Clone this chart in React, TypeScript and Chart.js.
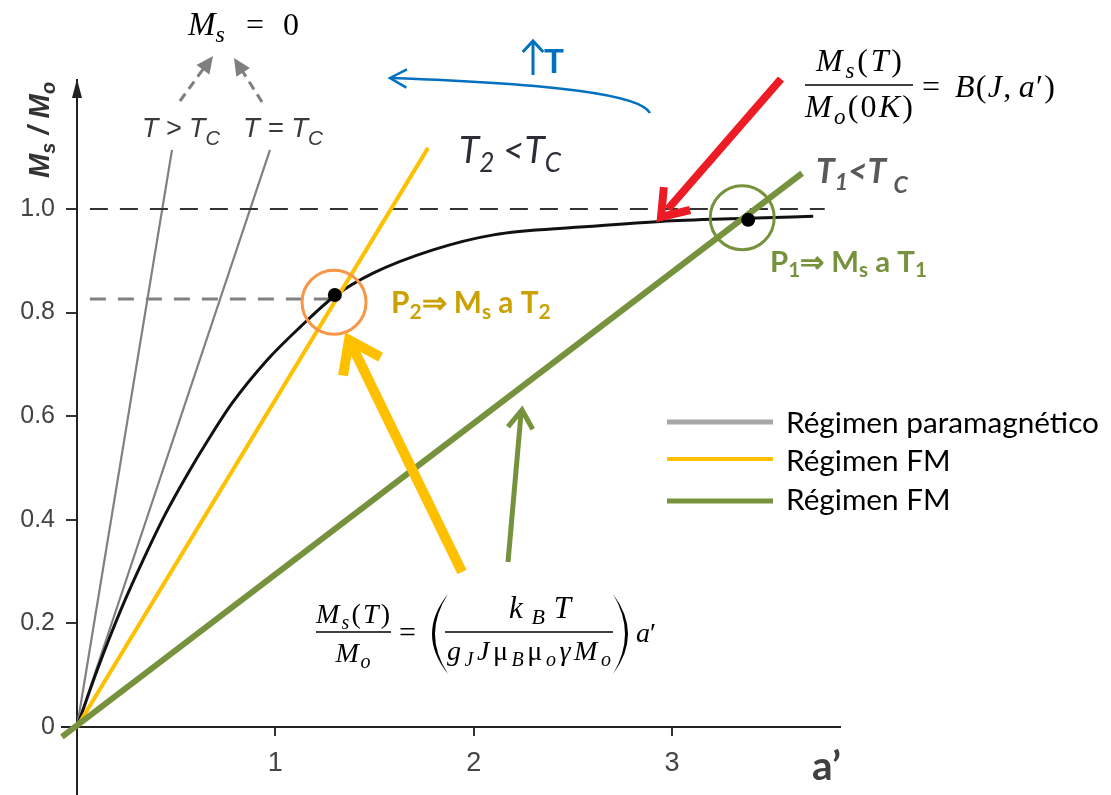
import React, { useEffect, useRef } from "react";
import { Chart, registerables } from "chart.js";
Chart.register(...registerables);

// ---------------- data ----------------
const xTicks = [1, 2, 3];
const xTickLabels = ["1", "2", "3"];
const yTicks = [0, 0.2, 0.4, 0.6, 0.8, 1.0];
const yTickLabels = ["0", "0.2", "0.4", "0.6", "0.8", "1.0"];

// Brillouin curve B(J, a')
const brillouinA = [0, 0.1, 0.17, 0.242, 0.328, 0.444, 0.56, 0.661, 0.782, 0.958, 1.125, 1.3, 1.493, 1.795, 2.1, 2.537, 2.94, 3.38, 3.712];
const brillouinM = [0, 0.108, 0.178, 0.245, 0.318, 0.41, 0.49, 0.554, 0.625, 0.708, 0.772, 0.832, 0.876, 0.921, 0.95, 0.965, 0.976, 0.982, 0.986];

// paramagnetic lines (T > Tc, T = Tc)
const paraHotA = [0, 0.479];
const paraHotM = [0, 1.114];
const paraTcA = [0, 0.973];
const paraTcM = [0, 1.114];

// FM lines
const fmT2A = [0, 1.77];
const fmT2M = [0, 1.118];
const fmT1A = [-0.076, 3.656];
const fmT1M = [-0.019, 1.069];

// reference dashed levels
const satRefA = [0.065, 3.77];
const satRefM = [1.0, 1.0];
const p2RefA = [0.065, 1.3];
const p2RefM = [0.826, 0.826];

// solutions P2, P1
const solA = [1.3, 3.384];
const solM = [0.834, 0.979];
const ringA = [1.296, 3.354];
const ringM = [0.82, 0.983];

const legendLabels = ["Régimen paramagnético", "Régimen FM", "Régimen FM"];

const X_MIN = -0.0756;
const X_MAX = 3.847;
const Y_MIN = -0.1313;
const Y_MAX = 1.249;

const GREEN = "#76923C";
const YELLOW = "#FFC000";
const GRAY = "#7f7f7f";

const pts = (xs: number[], ys: number[]) => xs.map((x, i) => ({ x, y: ys[i] }));

type Run = { t: string; s: number; st?: string; w?: string; f?: string; dy?: number };

function textRuns(
  ctx: CanvasRenderingContext2D,
  runs: Run[],
  x: number,
  y: number,
  o: { family: string; color: string; width?: number; align?: "left" | "center" | "right"; mode?: "scale" | "space" }
) {
  const font = (r: Run, k: number) => `${r.st || "normal"} ${r.w || "normal"} ${r.s * k}px ${r.f || o.family}`;
  ctx.fillStyle = o.color;
  ctx.textBaseline = "alphabetic";
  ctx.textAlign = "left";
  if (o.mode === "space" && o.width) {
    const chars: Run[] = [];
    runs.forEach((r) => Array.from(r.t).forEach((c) => chars.push({ ...r, t: c })));
    const widths = chars.map((c) => {
      ctx.font = font(c, 1);
      return ctx.measureText(c.t).width;
    });
    const natural = widths.reduce((a, b) => a + b, 0);
    const gap = chars.length > 1 ? (o.width - natural) / (chars.length - 1) : 0;
    let cx = o.align === "center" ? x - o.width / 2 : o.align === "right" ? x - o.width : x;
    chars.forEach((c, i) => {
      ctx.font = font(c, 1);
      ctx.fillText(c.t, cx, y + (c.dy || 0));
      cx += widths[i] + gap;
    });
    return 1;
  }
  const measure = (k: number) =>
    runs.reduce((a, r) => {
      ctx.font = font(r, k);
      return a + ctx.measureText(r.t).width;
    }, 0);
  let k = 1;
  if (o.width) k = o.width / measure(1);
  const total = measure(k);
  let cx = o.align === "center" ? x - total / 2 : o.align === "right" ? x - total : x;
  for (const r of runs) {
    ctx.font = font(r, k);
    ctx.fillText(r.t, cx, y + (r.dy || 0) * k);
    cx += ctx.measureText(r.t).width;
  }
  return k;
}

function seg(ctx: CanvasRenderingContext2D, x1: number, y1: number, x2: number, y2: number, color: string, w: number, dash: number[] = []) {
  ctx.save();
  ctx.strokeStyle = color;
  ctx.lineWidth = w;
  ctx.setLineDash(dash);
  ctx.lineCap = "butt";
  ctx.beginPath();
  ctx.moveTo(x1, y1);
  ctx.lineTo(x2, y2);
  ctx.stroke();
  ctx.restore();
}

function chevron(ctx: CanvasRenderingContext2D, tx: number, ty: number, fx: number, fy: number, len: number, ang: number, color: string, w: number) {
  const a = Math.atan2(fy - ty, fx - tx);
  ctx.save();
  ctx.strokeStyle = color;
  ctx.lineWidth = w;
  ctx.lineJoin = "miter";
  ctx.lineCap = "butt";
  ctx.setLineDash([]);
  ctx.beginPath();
  ctx.moveTo(tx + len * Math.cos(a + ang), ty + len * Math.sin(a + ang));
  ctx.lineTo(tx, ty);
  ctx.lineTo(tx + len * Math.cos(a - ang), ty + len * Math.sin(a - ang));
  ctx.stroke();
  ctx.restore();
}

function filledHead(ctx: CanvasRenderingContext2D, tx: number, ty: number, fx: number, fy: number, len: number, half: number, color: string) {
  const a = Math.atan2(fy - ty, fx - tx);
  const bx = tx + len * Math.cos(a);
  const by = ty + len * Math.sin(a);
  const px = -Math.sin(a);
  const py = Math.cos(a);
  ctx.save();
  ctx.fillStyle = color;
  ctx.beginPath();
  ctx.moveTo(tx, ty);
  ctx.lineTo(bx + half * px, by + half * py);
  ctx.lineTo(bx - half * px, by - half * py);
  ctx.closePath();
  ctx.fill();
  ctx.restore();
}

function paren(ctx: CanvasRenderingContext2D, x: number, top: number, bot: number, bulge: number, thick: number) {
  const mid = (top + bot) / 2;
  ctx.save();
  ctx.fillStyle = "#000";
  ctx.beginPath();
  ctx.moveTo(x, top);
  ctx.quadraticCurveTo(x + bulge, mid, x, bot);
  ctx.quadraticCurveTo(x + bulge - Math.sign(bulge) * thick, mid, x, top);
  ctx.closePath();
  ctx.fill();
  ctx.restore();
}

const SERIF = '"Liberation Serif"';
const SANS = '"Liberation Sans"';
const LATO = "Lato";

const annotations = {
  id: "annotations",
  afterDraw(chart: any) {
    const ctx: CanvasRenderingContext2D = chart.ctx;
    const xs = chart.scales.x;
    ctx.save();

    // y-axis arrowhead
    const ax = xs.getPixelForValue(0);
    const top = chart.chartArea.top;
    ctx.fillStyle = "#222";
    ctx.beginPath();
    ctx.moveTo(ax, top - 1);
    ctx.lineTo(ax - 5, top + 18);
    ctx.lineTo(ax + 5, top + 18);
    ctx.closePath();
    ctx.fill();

    // y-axis title (rotated)
    ctx.save();
    ctx.translate(49, 178);
    ctx.rotate(-Math.PI / 2);
    textRuns(
      ctx,
      [
        { t: "M", s: 28, st: "italic", w: "bold" },
        { t: "s", s: 19, st: "italic", w: "bold", dy: 6 },
        { t: " / ", s: 28, st: "italic", w: "bold" },
        { t: "M", s: 28, st: "italic", w: "bold" },
        { t: "o", s: 19, st: "italic", w: "bold", dy: 6 },
      ],
      0,
      0,
      { family: SANS, color: "#333", width: 96 }
    );
    ctx.restore();

    // x-axis title
    textRuns(ctx, [{ t: "a’", s: 32, w: "bold" }], 812, 780, { family: LATO, color: "#404040", width: 29 });

    // Ms = 0
    textRuns(ctx, [{ t: "M", s: 33, st: "italic" }, { t: "s", s: 24, st: "italic", dy: 7 }], 188, 35, { family: SERIF, color: "#000" });
    textRuns(ctx, [{ t: "=", s: 32 }], 246, 35, { family: SERIF, color: "#000" });
    textRuns(ctx, [{ t: "0", s: 32 }], 283, 35, { family: SERIF, color: "#000" });

    // gray dashed arrows to Ms = 0
    seg(ctx, 180, 101, 204, 68, GRAY, 3, [9, 6]);
    filledHead(ctx, 213, 56, 180, 101, 17, 8, GRAY);
    seg(ctx, 262, 102, 243, 72, GRAY, 3, [9, 6]);
    filledHead(ctx, 234, 58, 262, 102, 17, 8, GRAY);

    // T > Tc, T = Tc
    textRuns(ctx, [{ t: "T > T", s: 28, st: "italic" }, { t: "C", s: 21, st: "italic", dy: 8 }], 142, 137, { family: SANS, color: "#3a3a3a", width: 78 });
    textRuns(ctx, [{ t: "T = T", s: 28, st: "italic" }, { t: "C", s: 21, st: "italic", dy: 8 }], 243, 137, { family: SANS, color: "#3a3a3a", width: 80 });

    // T2 < Tc
    textRuns(
      ctx,
      [
        { t: "T", s: 34, st: "italic" },
        { t: "2", s: 24, st: "italic", dy: 8 },
        { t: " <", s: 34, st: "italic" },
        { t: "T", s: 34, st: "italic" },
        { t: "C", s: 24, st: "italic", dy: 8 },
      ],
      459,
      163,
      { family: LATO, color: "#2d2d38", width: 102 }
    );

    // blue curved arrow + ↑T
    ctx.save();
    ctx.strokeStyle = "#0070C0";
    ctx.lineWidth = 2.5;
    ctx.beginPath();
    ctx.moveTo(650, 113);
    ctx.bezierCurveTo(640, 95, 560, 84, 391, 78);
    ctx.stroke();
    ctx.restore();
    chevron(ctx, 390, 78, 420, 79, 19, 0.5, "#0070C0", 2.5);
    seg(ctx, 533, 75, 533, 42, "#0070C0", 3);
    chevron(ctx, 533, 41, 533, 75, 15, 0.75, "#0070C0", 3);
    textRuns(ctx, [{ t: "T", s: 32, w: "bold" }], 544, 73, { family: LATO, color: "#0070C0", width: 20 });

    // top-right equation
    textRuns(
      ctx,
      [
        { t: "M", s: 32, st: "italic" },
        { t: "s", s: 23, st: "italic", dy: 7 },
        { t: "(", s: 32 },
        { t: "T", s: 32, st: "italic" },
        { t: ")", s: 32 },
      ],
      859,
      71,
      { family: SERIF, color: "#000", width: 86, align: "center", mode: "space" }
    );
    seg(ctx, 805, 85, 913, 85, "#000", 1.6);
    textRuns(
      ctx,
      [
        { t: "M", s: 32, st: "italic" },
        { t: "o", s: 23, st: "italic", dy: 7 },
        { t: "(0", s: 32 },
        { t: "K", s: 32, st: "italic" },
        { t: ")", s: 32 },
      ],
      859,
      117,
      { family: SERIF, color: "#000", width: 108, align: "center", mode: "space" }
    );
    textRuns(ctx, [{ t: "=", s: 32 }], 922, 97, { family: SERIF, color: "#000" });
    textRuns(
      ctx,
      [
        { t: "B", s: 32, st: "italic" },
        { t: "(", s: 32 },
        { t: "J", s: 32, st: "italic" },
        { t: ",", s: 32 },
        { t: " ", s: 20 },
        { t: "a", s: 32, st: "italic" },
        { t: "′)", s: 32 },
      ],
      955,
      97,
      { family: SERIF, color: "#000", width: 100, mode: "space" }
    );

    // red arrow
    seg(ctx, 781, 79, 668, 209, "#ED1C24", 8);
    chevron(ctx, 661, 217, 781, 79, 30, 0.62, "#ED1C24", 8);

    // T1 < Tc
    textRuns(
      ctx,
      [
        { t: "T", s: 32, st: "italic", w: "bold" },
        { t: "1", s: 22, st: "italic", w: "bold", dy: 7 },
        { t: "<T ", s: 32, st: "italic", w: "bold" },
        { t: "C", s: 22, st: "italic", w: "bold", dy: 10 },
      ],
      816,
      183,
      { family: LATO, color: "#595959", width: 92 }
    );

    // P1 label
    textRuns(
      ctx,
      [
        { t: "P", s: 27, w: "bold" },
        { t: "1", s: 19, w: "bold", dy: 5 },
        { t: "⇒", s: 27, w: "bold" },
        { t: " M", s: 27, w: "bold" },
        { t: "s", s: 19, w: "bold", dy: 5 },
        { t: " a T", s: 27, w: "bold" },
        { t: "1", s: 19, w: "bold", dy: 5 },
      ],
      770,
      272,
      { family: LATO, color: GREEN, width: 158 }
    );

    // P2 label
    textRuns(
      ctx,
      [
        { t: "P", s: 27, w: "bold" },
        { t: "2", s: 19, w: "bold", dy: 5 },
        { t: "⇒", s: 27, w: "bold" },
        { t: " M", s: 27, w: "bold" },
        { t: "s", s: 19, w: "bold", dy: 5 },
        { t: " a T", s: 27, w: "bold" },
        { t: "2", s: 19, w: "bold", dy: 5 },
      ],
      391,
      313,
      { family: LATO, color: "#C9A100", width: 160 }
    );

    // yellow arrow
    seg(ctx, 462, 572, 353, 348, YELLOW, 10);
    chevron(ctx, 349, 340, 462, 572, 36, 0.62, YELLOW, 10);

    // green arrow
    seg(ctx, 508, 562, 521, 414, GREEN, 5);
    chevron(ctx, 522, 410, 508, 562, 22, 0.6, GREEN, 5);

    // bottom equation
    textRuns(
      ctx,
      [
        { t: "M", s: 28, st: "italic" },
        { t: "s", s: 20, st: "italic", dy: 6 },
        { t: "(", s: 28 },
        { t: "T", s: 28, st: "italic" },
        { t: ")", s: 28 },
      ],
      316,
      623,
      { family: SERIF, color: "#000", width: 74, mode: "space" }
    );
    seg(ctx, 316, 632, 391, 632, "#000", 1.6);
    textRuns(ctx, [{ t: "M", s: 28, st: "italic" }, { t: "o", s: 20, st: "italic", dy: 6 }], 353, 662, { family: SERIF, color: "#000", width: 35, align: "center", mode: "space" });
    textRuns(ctx, [{ t: "=", s: 30 }], 399, 642, { family: SERIF, color: "#000" });
    paren(ctx, 448, 594, 674, -32, 6);
    textRuns(
      ctx,
      [
        { t: "k", s: 31, st: "italic" },
        { t: "B", s: 22, st: "italic", dy: 6 },
        { t: "T", s: 31, st: "italic" },
      ],
      540,
      618,
      { family: SERIF, color: "#000", width: 62, align: "center", mode: "space" }
    );
    seg(ctx, 445, 632, 613, 632, "#000", 1.6);
    textRuns(
      ctx,
      [
        { t: "g", s: 28, st: "italic" },
        { t: "J", s: 20, st: "italic", dy: 6 },
        { t: "J", s: 28, st: "italic" },
        { t: "μ", s: 28 },
        { t: "B", s: 20, st: "italic", dy: 6 },
        { t: "μ", s: 28 },
        { t: "o", s: 20, st: "italic", dy: 6 },
        { t: "γ", s: 28, st: "italic" },
        { t: "M", s: 28, st: "italic" },
        { t: "o", s: 20, st: "italic", dy: 6 },
      ],
      529,
      660,
      { family: SERIF, color: "#000", width: 164, align: "center", mode: "space" }
    );
    paren(ctx, 613, 594, 674, 30, 6);
    textRuns(ctx, [{ t: "a", s: 28, st: "italic" }, { t: "′", s: 28 }], 636, 642, { family: SERIF, color: "#000", width: 20, mode: "space" });

    // legend
    const legendColors = ["#A6A6A6", YELLOW, GREEN];
    const legendY = [422, 459, 501];
    const legendBase = [433, 471, 510];
    const legendW = [5, 4, 5];
    let k = 1;
    legendLabels.forEach((lab, i) => {
      seg(ctx, 667, legendY[i], 773, legendY[i], legendColors[i], legendW[i]);
      if (i === 0) {
        k = textRuns(ctx, [{ t: lab, s: 28 }], 786, legendBase[i], { family: LATO, color: "#000", width: 313 });
      } else {
        textRuns(ctx, [{ t: lab, s: 28 * k }], 786, legendBase[i], { family: LATO, color: "#000" });
      }
    });

    ctx.restore();
  },
};

const noPad = (s: any) => {
  s.paddingTop = 0;
  s.paddingBottom = 0;
  s.paddingLeft = 0;
  s.paddingRight = 0;
};

export default function App() {
  const ref = useRef<HTMLCanvasElement>(null);
  useEffect(() => {
    const canvas = ref.current!;
    const lineDs = (xs: number[], ys: number[], color: string, width: number, extra: any = {}) => ({
      data: pts(xs, ys),
      xAxisID: "x",
      yAxisID: "y",
      showLine: true,
      borderColor: color,
      borderWidth: width,
      pointRadius: 0,
      fill: false,
      clip: false,
      ...extra,
    });
    const chart = new Chart(canvas, {
      type: "scatter",
      data: {
        datasets: [
          // top-most first
          {
            data: pts(solA, solM),
            xAxisID: "x",
            yAxisID: "y",
            showLine: false,
            pointRadius: 7,
            pointBackgroundColor: "#000",
            pointBorderWidth: 0,
            clip: false,
          } as any,
          {
            data: pts(ringA, ringM),
            xAxisID: "x",
            yAxisID: "y",
            showLine: false,
            pointRadius: 32,
            pointBackgroundColor: "rgba(0,0,0,0)",
            pointBorderColor: ["#F79646", GREEN],
            pointBorderWidth: 3,
            clip: false,
          } as any,
          lineDs(fmT1A, fmT1M, GREEN, 6),
          lineDs(fmT2A, fmT2M, YELLOW, 4),
          lineDs(brillouinA, brillouinM, "#111", 3, { tension: 0.4, cubicInterpolationMode: "monotone" }),
          lineDs(p2RefA, p2RefM, "#808080", 3, { borderDash: [16, 12] }),
          lineDs(satRefA, satRefM, "#333", 2, { borderDash: [18, 12] }),
          lineDs(paraTcA, paraTcM, "#808080", 2.2),
          lineDs(paraHotA, paraHotM, "#808080", 2.2),
        ],
      },
      options: {
        responsive: false,
        maintainAspectRatio: false,
        animation: false,
        events: [],
        layout: { autoPadding: false, padding: { left: 0, right: 271, top: 80, bottom: 0 } },
        plugins: { legend: { display: false }, tooltip: { enabled: false }, title: { display: false } },
        scales: {
          y: {
            type: "linear",
            min: Y_MIN,
            max: Y_MAX,
            position: { x: 0 } as any,
            afterBuildTicks: (s: any) => {
              s.ticks = yTicks.map((v) => ({ value: v }));
            },
            afterFit: (s: any) => {
              s.width = 0;
              noPad(s);
            },
            grid: { drawOnChartArea: false, drawTicks: true, tickLength: 10, color: "#333", lineWidth: 2 },
            border: { display: true, color: "#222", width: 2 },
            ticks: { display: false },
          },
          yLabels: {
            type: "linear",
            axis: "y",
            min: Y_MIN,
            max: Y_MAX,
            position: "left",
            afterBuildTicks: (s: any) => {
              s.ticks = yTicks.map((v) => ({ value: v }));
            },
            afterFit: (s: any) => {
              s.width = 62;
              noPad(s);
            },
            grid: { display: false, drawTicks: false },
            border: { display: false },
            ticks: {
              autoSkip: false,
              padding: 7,
              color: "#444",
              font: { family: "Liberation Sans", size: 25 },
              callback: (_v: any, i: number) => yTickLabels[i],
            },
          } as any,
          x: {
            type: "linear",
            min: X_MIN,
            max: X_MAX,
            position: { y: 0 } as any,
            afterBuildTicks: (s: any) => {
              s.ticks = xTicks.map((v) => ({ value: v }));
            },
            afterFit: (s: any) => {
              s.height = 0;
              noPad(s);
            },
            grid: { drawOnChartArea: false, drawTicks: true, tickLength: 8, color: "#333", lineWidth: 2 },
            border: { display: true, color: "#222", width: 2 },
            ticks: {
              autoSkip: false,
              maxRotation: 0,
              padding: 12,
              color: "#444",
              font: { family: "Liberation Sans", size: 27 },
              callback: (_v: any, i: number) => xTickLabels[i],
            },
          },
        },
      },
      plugins: [annotations],
    });
    return () => chart.destroy();
  }, []);
  return (
    <div style={{ position: "fixed", left: 0, top: 0, width: 1111, height: 795, background: "#fff" }}>
      <canvas ref={ref} width={1111} height={795} style={{ display: "block" }} />
    </div>
  );
}
